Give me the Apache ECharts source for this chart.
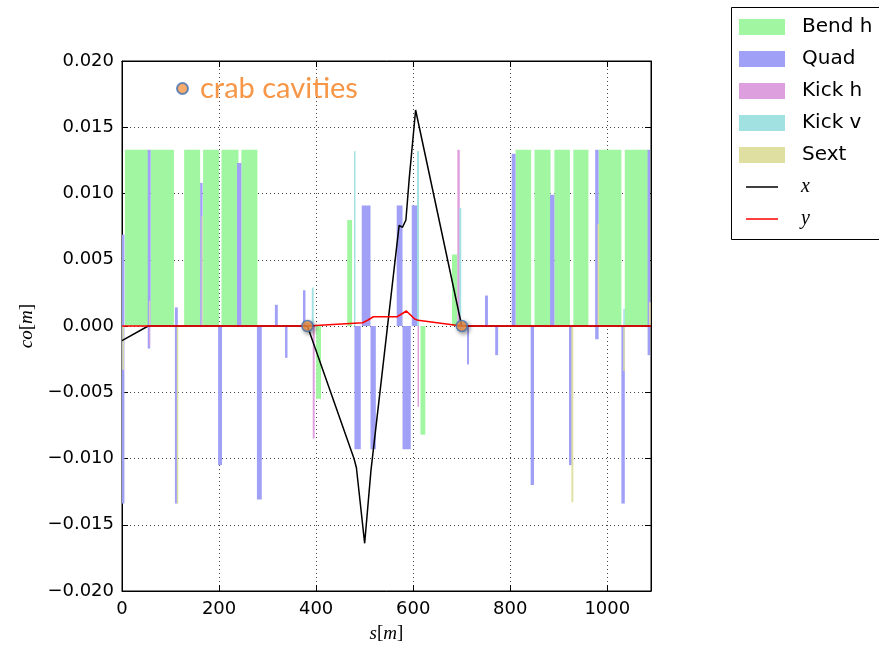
<!DOCTYPE html>
<html>
<head>
<meta charset="utf-8">
<script src="https://cdn.jsdelivr.net/npm/echarts@6/dist/echarts.min.js"></script>
<style>
  html, body { margin: 0; padding: 0; background: #fff; }
  #chart { width: 879px; height: 648px; }
</style>
</head>
<body>
<div id="chart"></div>
<script>
// Lattice elements as [s_start (m), s_end (m), strength]
const bendH = [
  [6, 54, 0.0133], [59, 107, 0.0133], [128, 161, 0.0133], [167, 200, 0.0133],
  [205, 240, 0.0133], [246, 279, 0.0133],
  [400, 410, -0.0055], [464, 474, 0.0080], [615, 625, -0.0082], [680, 691, 0.0054],
  [811, 843, 0.0133], [850, 883, 0.0133], [891, 923, 0.0133], [930, 961, 0.0133],
  [982, 1029, 0.0133], [1036, 1084, 0.0133]
];
const quads = [
  [0, 5, 0.0069], [0, 5, -0.0134],
  [53, 59, 0.0133], [53, 58, -0.0017],
  [109, 115, 0.0014], [109, 115, -0.0134],
  [161, 166, 0.0108], [198, 206, -0.0105], [237, 246, 0.0123], [278, 288, -0.0131],
  [315, 321, 0.0016], [336, 341, -0.0024], [373, 378, 0.0027],
  [479, 492, -0.0093], [494, 512, 0.0091], [512, 523, -0.0093],
  [566, 578, 0.0091], [578, 595, -0.0093], [597, 610, 0.0091],
  [711, 715, -0.0029], [748, 754, 0.0023], [769, 775, -0.0022],
  [803, 811, 0.0130], [842, 849, -0.0120], [882, 891, 0.0099], [921, 927, -0.0105],
  [975, 982, 0.0133], [975, 982, -0.0010],
  [1029, 1036, -0.0134],
  [1083, 1088, 0.0133], [1083, 1088, -0.0022]
];
const kickH = [
  [56, 58, -0.0015], [393, 397, -0.0085], [609, 612, -0.0061], [691, 696, 0.0133]
];
const kickV = [
  [391, 395, 0.0029], [478, 481, 0.0132], [608, 612, 0.0132], [695, 699, 0.0089],
  [1033, 1036, 0.0013]
];
const sext = [
  [1, 4, -0.0033], [56, 58, 0.0019], [113, 116, -0.0134], [164, 166, 0.0083],
  [926, 930, -0.0133], [980, 983, 0.0077], [1033, 1036, -0.0034], [1086, 1089, 0.0018]
];

// Closed orbit [s (m), co (m)]
const orbitX = [
  [0, -0.0011], [54, 0], [382, 0], [478, -0.0100], [483, -0.0107], [500, -0.0164],
  [513, -0.0109], [571, 0.0076], [578, 0.00745], [585, 0.0080], [592, 0.0112],
  [605, 0.0163], [700, 0], [1090, 0]
];
const orbitY = [
  [0, 0], [382, 0], [496, 0.00025], [507, 0.00045], [518, 0.0007], [567, 0.0007],
  [586, 0.00113], [603, 0.00053], [610, 0.00043], [700, 0], [1090, 0]
];

// Crab cavity positions (m)
const crabS = [382, 700];

// Axis ranges and ticks
const sMin = 0, sMax = 1090, sStep = 200;
const coMin = -0.020, coMax = 0.020, coStep = 0.005;

const colors = {
  bend: '#a1f7a1', quad: '#a0a0f7', kickH: '#dd9fdd', kickV: '#a2e1e1', sext: '#dfdfa2'
};

const chart = echarts.init(document.getElementById('chart'), null, { renderer: 'canvas' });

function renderElement(params, api) {
  const a = api.coord([api.value(0), api.value(2)]);
  const b = api.coord([api.value(1), 0]);
  return {
    type: 'rect',
    shape: {
      x: Math.min(a[0], b[0]),
      y: Math.min(a[1], b[1]),
      width: Math.max(Math.abs(b[0] - a[0]), 1),
      height: Math.abs(b[1] - a[1])
    },
    style: { fill: api.visual('color') }
  };
}

function elementSeries(name, data, color, z) {
  return {
    type: 'custom', name, data, z,
    xAxisIndex: 0, yAxisIndex: 0,
    encode: { x: [0, 1], y: 2 },
    itemStyle: { color },
    renderItem: renderElement,
    silent: true
  };
}

const tickFont = { fontFamily: 'DejaVu Sans', fontSize: 18, color: '#000' };
const gridLine = { show: true, lineStyle: { color: '#444', type: [1, 3], width: 1 } };
const axisLine = { show: true, onZero: false, lineStyle: { color: '#000', width: 1 } };
const innerTick = { show: true, inside: true, length: 6, lineStyle: { color: '#000' } };
const mathName = {
  fontFamily: 'Liberation Serif', fontSize: 19, color: '#000',
  rich: {
    i: { fontFamily: 'Liberation Serif', fontStyle: 'italic', fontSize: 19, color: '#000' },
    n: { fontFamily: 'Liberation Serif', fontSize: 19, color: '#000' }
  }
};

const option = {
  animation: false,
  backgroundColor: '#fff',
  grid: { left: 122, top: 61, right: 228, bottom: 57, show: true, borderColor: '#000', borderWidth: 1 },
  xAxis: [
    {
      type: 'value', min: sMin, max: sMax, interval: sStep, position: 'bottom',
      axisLine, axisTick: innerTick, splitLine: gridLine,
      axisLabel: Object.assign({ margin: 9, formatter: v => (v % sStep === 0 ? String(v) : '') }, tickFont),
      name: '{i|s}{n|[}{i|m}{n|]}', nameLocation: 'middle', nameGap: 33, nameTextStyle: mathName
    },
    {
      type: 'value', min: sMin, max: sMax, interval: sStep, position: 'top',
      axisLine, axisTick: innerTick, splitLine: { show: false }, axisLabel: { show: false }
    }
  ],
  yAxis: [
    {
      type: 'value', min: coMin, max: coMax, interval: coStep, position: 'left',
      axisLine, axisTick: innerTick, splitLine: gridLine,
      axisLabel: Object.assign({
        margin: 8,
        formatter: v => (Math.abs(v) < 1e-9 ? '0.000' : v.toFixed(3)).replace('-', '\u2212')
      }, tickFont),
      name: '{i|co}{n|[}{i|m}{n|]}', nameLocation: 'middle', nameGap: 80, nameRotate: 90,
      nameTextStyle: mathName
    },
    {
      type: 'value', min: coMin, max: coMax, interval: coStep, position: 'right',
      axisLine, axisTick: innerTick, splitLine: { show: false }, axisLabel: { show: false }
    }
  ],
  legend: [
    {
      data: ['Bend h', 'Quad', 'Kick h', 'Kick v', 'Sext'],
      orient: 'vertical', left: 739, top: 17, padding: 0,
      itemWidth: 46, itemHeight: 16, itemGap: 12, icon: 'rect',
      textStyle: { fontFamily: 'DejaVu Sans', fontSize: 20, color: '#000', padding: [0, 0, 0, 12] },
      selectedMode: false
    },
    {
      data: ['x', 'y'],
      orient: 'vertical', left: 746, top: 177, padding: 0,
      itemWidth: 32, itemHeight: 1.5, itemGap: 12, icon: 'rect',
      textStyle: { fontFamily: 'Liberation Serif', fontStyle: 'italic', fontSize: 20, color: '#000', padding: [0, 0, 0, 18] },
      selectedMode: false
    },
    {
      data: ['crab cavities'],
      orient: 'horizontal', left: 176, top: 74, padding: 0,
      itemWidth: 11, itemHeight: 11, icon: 'circle',
      textStyle: { fontFamily: 'Lato', fontSize: 29, color: '#f79646', padding: [0, 0, 7, 7] },
      selectedMode: false
    }
  ],
  graphic: [
    {
      type: 'rect', z: 0, silent: true,
      shape: { x: 731.5, y: 7.5, width: 320, height: 232 },
      style: { fill: 'none', stroke: '#000', lineWidth: 1 }
    }
  ],
  series: [
    elementSeries('Bend h', bendH, colors.bend, 1),
    elementSeries('Quad', quads, colors.quad, 2),
    elementSeries('Kick h', kickH, colors.kickH, 3),
    elementSeries('Kick v', kickV, colors.kickV, 4),
    elementSeries('Sext', sext, colors.sext, 5),
    {
      type: 'line', name: 'x', data: orbitX, z: 6, symbol: 'none', silent: true,
      lineStyle: { color: '#000', width: 1.5 }, itemStyle: { color: '#000' }
    },
    {
      type: 'line', name: 'y', data: orbitY, z: 7, symbol: 'none', silent: true,
      lineStyle: { color: '#ff0000', width: 1.6 }, itemStyle: { color: '#ff0000' }
    },
    {
      type: 'scatter', name: 'crab cavities', data: crabS.map(s => [s, 0]), z: 8,
      symbol: 'circle', symbolSize: 11, silent: true,
      itemStyle: {
        color: '#f79646', borderColor: '#3f72b5', borderWidth: 1.5,
        shadowBlur: 4, shadowColor: 'rgba(0,0,0,0.45)', shadowOffsetX: 2, shadowOffsetY: 2
      }
    }
  ]
};

chart.setOption(option);
</script>
</body>
</html>
